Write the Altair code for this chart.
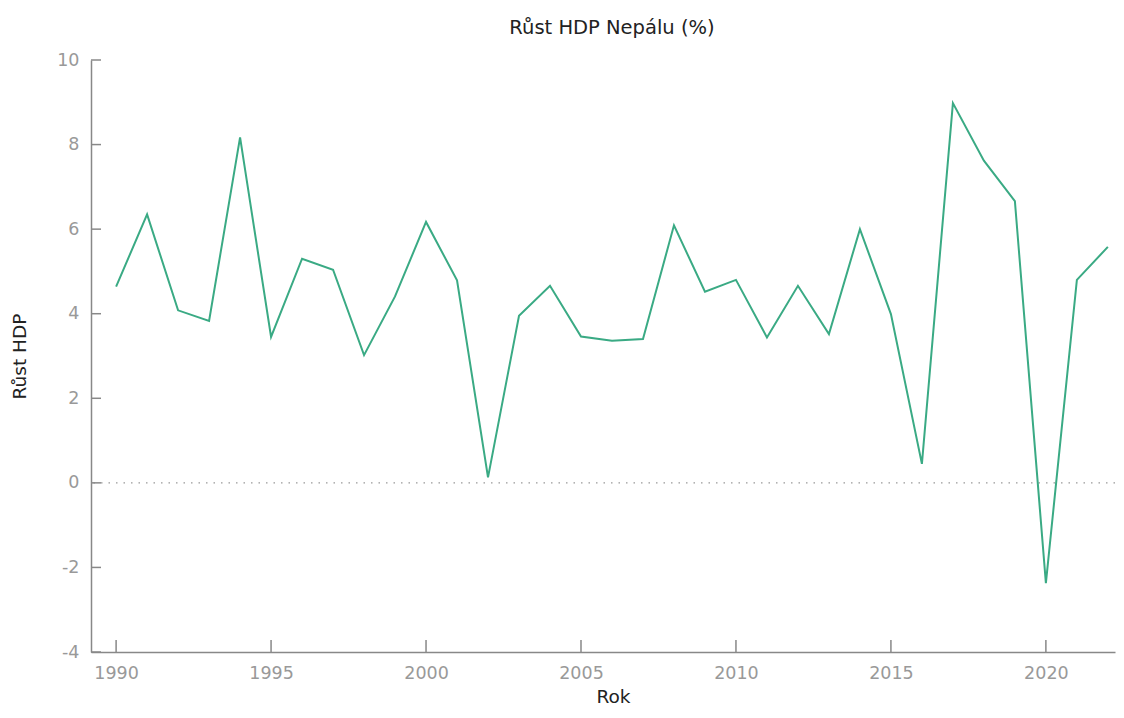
import altair as alt
import pandas as pd

years = list(range(1990, 2023))
growth = [4.64, 6.35, 4.08, 3.83, 8.17, 3.45, 5.30, 5.04, 3.02, 4.41,
          6.17, 4.79, 0.13, 3.95, 4.66, 3.46, 3.36, 3.40, 6.09, 4.52,
          4.80, 3.44, 4.66, 3.52, 6.00, 3.99, 0.45, 8.98, 7.62, 6.66,
          -2.37, 4.80, 5.58]
x_ticks = [1990, 1995, 2000, 2005, 2010, 2015, 2020]
y_ticks = [-4, -2, 0, 2, 4, 6, 8, 10]

df = pd.DataFrame({"Rok": years, "HDP": growth})
xt = pd.DataFrame({"t": x_ticks})
yt = pd.DataFrame({"t": y_ticks})
zero = pd.DataFrame({"z": [0]})

W, H = 1024, 592
FONT = "DejaVu Sans"

xscale = alt.Scale(domain=[1989.19, 2022.23], nice=False, zero=False)
yscale = alt.Scale(domain=[-4, 10], nice=False, zero=False)

line = alt.Chart(df).mark_line(color="#3aaa84", strokeWidth=2).encode(
    x=alt.X("Rok:Q", scale=xscale,
            axis=alt.Axis(values=x_ticks, format="d", title="Rok", ticks=False,
                          grid=False, domainColor="#888", domainWidth=1.5,
                          labelColor="#999", labelFontSize=17.5, labelFont=FONT,
                          labelPadding=12, titleFont=FONT, titleFontSize=18.5,
                          titleFontWeight="normal", titleColor="#222",
                          titlePadding=6, titleX=522)),
    y=alt.Y("HDP:Q", scale=yscale,
            axis=alt.Axis(values=y_ticks, title="Růst HDP", ticks=False,
                          grid=False, domainColor="#888", domainWidth=1.5,
                          labelColor="#999", labelFontSize=17.5, labelFont=FONT,
                          labelPadding=12, labelExpr="datum.value + ''",
                          titleFont=FONT, titleFontSize=18.5,
                          titleFontWeight="normal", titleColor="#222",
                          titlePadding=27)),
)

zero_rule = alt.Chart(zero).mark_rule(color="#999", strokeDash=[1.5, 6],
                                      strokeWidth=1.2).encode(
    y=alt.Y("z:Q", scale=yscale)
)

xtick_marks = alt.Chart(xt).mark_rule(color="#888", strokeWidth=1.5).encode(
    x=alt.X("t:Q", scale=xscale),
    y=alt.value(H), y2=alt.value(H - 12)
)
ytick_marks = alt.Chart(yt).mark_rule(color="#888", strokeWidth=1.5).encode(
    y=alt.Y("t:Q", scale=yscale),
    x=alt.value(0), x2=alt.value(10)
)

chart = alt.layer(zero_rule, xtick_marks, ytick_marks, line).properties(
    width=W, height=H,
    title=alt.TitleParams("Růst HDP Nepálu (%)", font=FONT, fontSize=19.5,
                          fontWeight="normal", color="#222", offset=13,
                          anchor="middle", dx=9),
    autosize=alt.AutoSizeParams(type="none"),
    padding={"left": 83, "top": 52, "right": 1, "bottom": 58},
).configure(background="white").configure_view(stroke=None)

chart.save("out.html", embed_options={"renderer": "svg", "actions": False})
